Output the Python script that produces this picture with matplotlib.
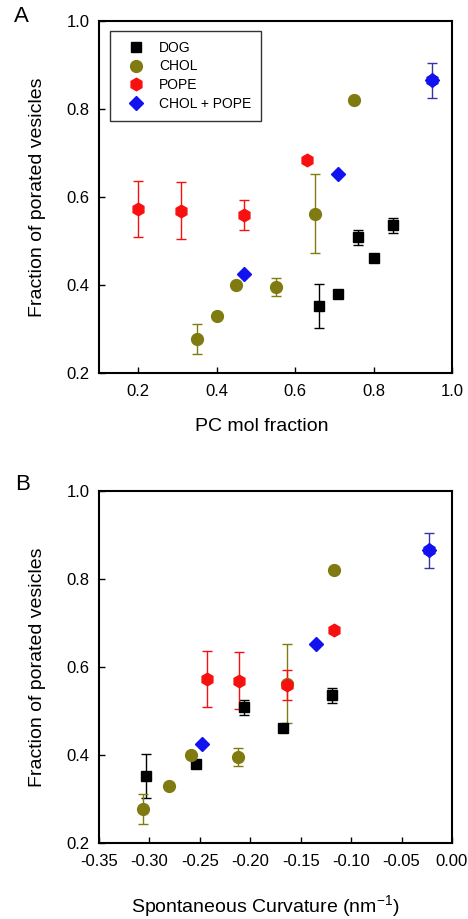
import matplotlib as mpl
mpl.use('Agg')
import matplotlib.pyplot as plt
from matplotlib.lines import Line2D

plt.rcParams['font.family'] = ['Liberation Sans', 'DejaVu Sans']
plt.rcParams['mathtext.fontset'] = 'custom'
plt.rcParams['mathtext.rm'] = 'Liberation Sans'

## data
# panel A: PC mol fraction, panel B: spontaneous curvature (nm^-1)
dog_pc = [0.66, 0.71, 0.76, 0.80, 0.85]
dog_c0 = [-0.303, -0.254, -0.206, -0.168, -0.119]
dog_y = [0.352, 0.380, 0.509, 0.462, 0.536]
dog_err = [0.050, 0.0, 0.017, 0.0, 0.017]

chol_pc = [0.35, 0.40, 0.45, 0.55, 0.65, 0.75]
chol_c0 = [-0.306, -0.281, -0.259, -0.212, -0.164, -0.117]
chol_y = [0.277, 0.330, 0.400, 0.396, 0.562, 0.820]
chol_err = [0.034, 0.0, 0.0, 0.020, 0.090, 0.0]

pope_pc = [0.20, 0.31, 0.47, 0.63]
pope_c0 = [-0.243, -0.211, -0.164, -0.117]
pope_y = [0.572, 0.569, 0.559, 0.685]
pope_err = [0.064, 0.064, 0.035, 0.0]

mix_pc = [0.47, 0.71]
mix_c0 = [-0.248, -0.135]
mix_y = [0.424, 0.653]

# pure PC point shared by all series
pure_pc = [0.95]
pure_c0 = [-0.0225]
pure_y = [0.865]
pure_err = [0.040]

black = '#000000'
olive = '#7f7b10'
red = '#f81010'
blue = '#1212f0'
navy = '#3535a8'

fig = plt.figure(figsize=(4.68, 9.19), dpi=100)

ax1 = fig.add_axes([99/468, 1-373/919, 353/468, 352/919])
ax2 = fig.add_axes([99/468, 1-843/919, 353/468, 352/919])


def draw(ax, xd, xc, xp, xm, xpure):
    eb = dict(ls='none', elinewidth=1.0, capsize=3.5, capthick=1.0)
    ax.errorbar(xd, dog_y, yerr=dog_err, marker='s', ms=7.5, color=black, **eb)
    ax.errorbar(xc, chol_y, yerr=chol_err, marker='o', ms=8.5, color=olive, **eb)
    ax.errorbar(xp, pope_y, yerr=pope_err, marker='h', ms=9, color=red, **eb)
    ax.errorbar(xpure, pure_y, yerr=pure_err, marker='h', ms=9, color=navy,
                mfc=blue, mec=blue, **eb)
    ax.plot(xm, mix_y, ls='none', marker='D', ms=7, color=blue)
    ax.plot(xpure, pure_y, ls='none', marker='D', ms=7, color=blue)

    ax.set_ylim(0.2, 1.0)
    ax.set_yticks([0.2, 0.4, 0.6, 0.8, 1.0])
    ax.set_yticklabels(['0.2', '0.4', '0.6', '0.8', '1.0'])
    for s in ax.spines.values():
        s.set_linewidth(1.5)
    ax.tick_params(direction='in', length=4, width=1, labelsize=12)
    ax.tick_params(axis='y', pad=7)
    ax.tick_params(axis='x', pad=8)
    ax.set_ylabel('Fraction of porated vesicles', fontsize=14)
    ax.yaxis.set_label_coords(-0.15, 0.5)


draw(ax1, dog_pc, chol_pc, pope_pc, mix_pc, pure_pc)
ax1.set_xlim(0.1, 1.0)
ax1.set_xticks([0.2, 0.4, 0.6, 0.8, 1.0])
ax1.set_xticklabels(['0.2', '0.4', '0.6', '0.8', '1.0'])
ax1.set_xlabel('PC mol fraction', fontsize=14)
ax1.xaxis.set_label_coords(0.462, -0.127)

draw(ax2, dog_c0, chol_c0, pope_c0, mix_c0, pure_c0)
ax2.set_xlim(-0.35, 0.0)
ax2.set_xticks([-0.35, -0.30, -0.25, -0.20, -0.15, -0.10, -0.05, 0.0])
ax2.set_xticklabels(['-0.35', '-0.30', '-0.25', '-0.20', '-0.15', '-0.10', '-0.05', '0.00'])
ax2.set_xlabel(r'Spontaneous Curvature (nm$^{\mathregular{-1}}$)', fontsize=14)
ax2.xaxis.set_label_coords(0.47, -0.142)

## legend
handles = [
    Line2D([], [], ls='none', marker='s', ms=7.5, color=black),
    Line2D([], [], ls='none', marker='o', ms=8.5, color=olive),
    Line2D([], [], ls='none', marker='h', ms=9, color=red),
    Line2D([], [], ls='none', marker='D', ms=7, color=blue),
]
leg = ax1.legend(handles, ['DOG', 'CHOL', 'POPE', 'CHOL + POPE'],
                 loc='upper left', bbox_to_anchor=(0.031, 0.972), borderaxespad=0,
                 fontsize=10, frameon=True, fancybox=False, borderpad=0.7,
                 handlelength=2.4, handletextpad=0.45, labelspacing=0.35,
                 numpoints=1)
leg.get_frame().set_edgecolor('#333333')
leg.get_frame().set_linewidth(1.0)
leg.get_frame().set_alpha(None)

fig.text(21/468, 1-17/919, 'A', fontsize=16, ha='center', va='center')
fig.text(23/468, 1-485/919, 'B', fontsize=16, ha='center', va='center')

fig.savefig('out.png', dpi=100)
